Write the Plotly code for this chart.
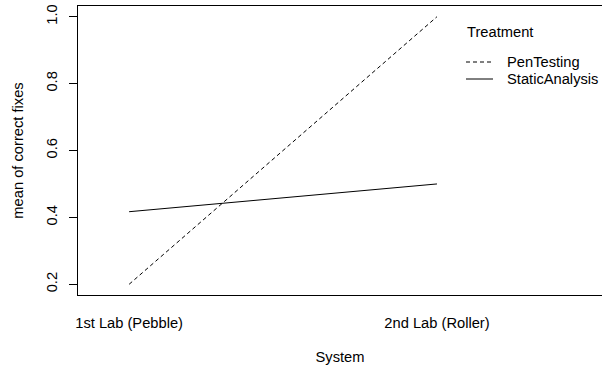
import plotly.graph_objects as go

# Mean of correct fixes per system, one trace per treatment
systems = ["1st Lab (Pebble)", "2nd Lab (Roller)"]
system_pos = [1, 2]
pen_testing = [0.2, 1.0]
static_analysis = [0.417, 0.5]
y_ticks = [0.2, 0.4, 0.6, 0.8, 1.0]
y_tick_text = ["0.2", "0.4", "0.6", "0.8", "1.0"]

FONT = "Liberation Sans, Arial, Helvetica, sans-serif"
FS = 14.7

fig = go.Figure()
fig.add_trace(go.Scatter(x=system_pos, y=pen_testing, mode="lines", name="PenTesting",
                         line=dict(color="black", width=1, dash="4px,3px")))
fig.add_trace(go.Scatter(x=system_pos, y=static_analysis, mode="lines", name="StaticAnalysis",
                         line=dict(color="black", width=1)))

fig.update_layout(
    width=602, height=371,
    margin=dict(l=78, r=0, t=6, b=76),
    plot_bgcolor="white", paper_bgcolor="white",
    showlegend=False,
    font=dict(family=FONT, size=FS, color="black"),
    xaxis=dict(range=[0.834, 2.536], tickvals=system_pos, ticktext=systems,
               showline=True, linecolor="black", linewidth=1, mirror=True,
               showgrid=False, zeroline=False, ticks="", ticklabelstandoff=14,
               tickfont=dict(size=FS),
               title=dict(text="System", standoff=22, font=dict(size=FS))),
    yaxis=dict(range=[0.168, 1.032], tickvals=y_ticks, ticktext=y_tick_text,
               tickangle=-90, showline=True, linecolor="black", linewidth=1,
               showgrid=False, zeroline=False, ticks="outside", ticklen=8,
               tickcolor="black", ticklabelstandoff=6, tickfont=dict(size=FS),
               title=dict(text="mean of correct fixes", standoff=16, font=dict(size=FS))),
)

# Legend block drawn in the upper right of the panel
fig.add_annotation(x=465, y=371 - 32, xref="paper", yref="paper", text="Treatment",
                   showarrow=False, xanchor="left", yanchor="middle")
legend_rows = [("PenTesting", "4px,3px", 62), ("StaticAnalysis", "solid", 79)]
for label, dash, ypix in legend_rows:
    fig.add_shape(type="line", xref="paper", yref="paper",
                  x0=466, x1=493, y0=371 - ypix, y1=371 - ypix,
                  line=dict(color="black", width=1, dash=dash))
    fig.add_annotation(x=505, y=371 - ypix, xref="paper", yref="paper", text=label,
                       showarrow=False, xanchor="left", yanchor="middle")

# convert pixel positions to paper fractions
pw, ph = 602 - 78, 371 - 6 - 76
for a in fig.layout.annotations:
    a.x = (a.x - 78) / pw
    a.y = (a.y - 76) / ph
for s in fig.layout.shapes:
    s.x0 = (s.x0 - 78) / pw
    s.x1 = (s.x1 - 78) / pw
    s.y0 = (s.y0 - 76) / ph
    s.y1 = (s.y1 - 76) / ph

fig.write_html("out.html")
